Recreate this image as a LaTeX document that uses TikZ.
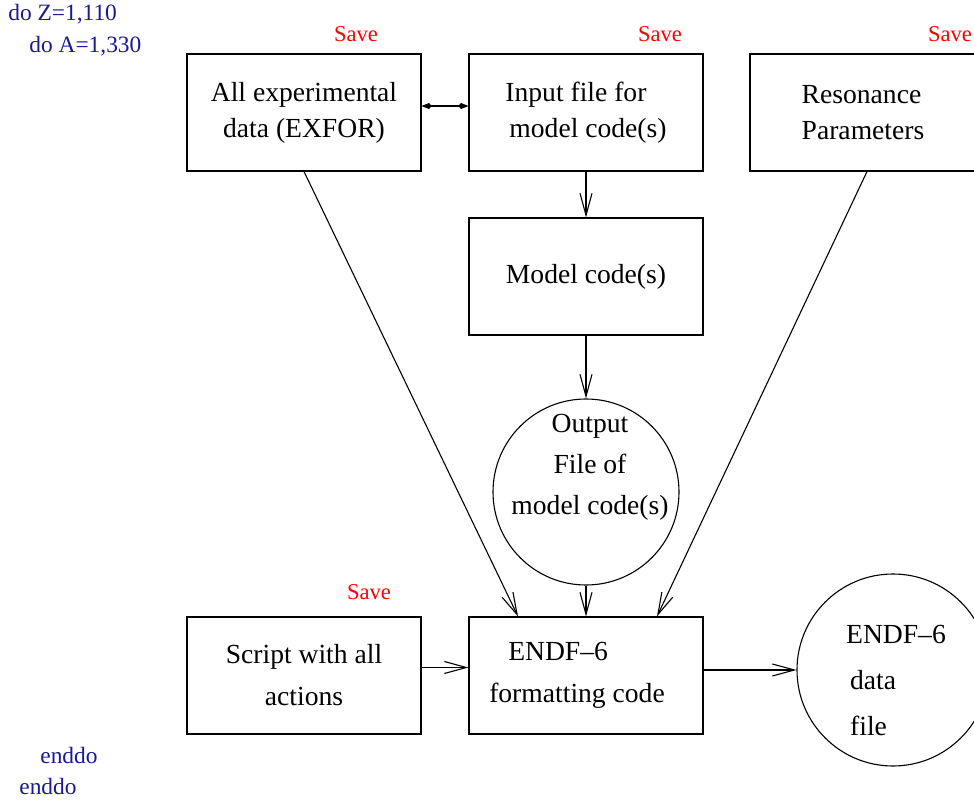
\documentclass[tikz,border=0pt]{standalone}
\usepackage{fontspec}
\setmainfont{Liberation Serif}
\usetikzlibrary{arrows.meta}
\definecolor{loopblue}{RGB}{25,25,150}
\definecolor{savered}{RGB}{255,0,0}
\newcommand{\savenote}[2]{\node[savetext] (#1) at #2 {Save};}
\newcommand{\loopnote}[3]{\node[looptext] (#1) at #2 {#3};}
\tikzset{
  box/.style={draw, line width=0.55pt, minimum width=117pt, minimum height=58.5pt, inner sep=0pt,
    font=\fontsize{13.8}{18}\selectfont},
  round/.style={draw, circle, line width=0.55pt, inner sep=0pt},
  savetext/.style={text=savered, inner sep=0pt, font=\fontsize{11.3}{13}\selectfont},
  looptext/.style={text=loopblue, inner sep=0pt, anchor=base west, font=\fontsize{11.7}{14}\selectfont},
  flow/.style={line width=0.55pt, -{Straight Barb[length=11pt,width=6pt]}},
  link/.style={line width=0.55pt, {Kite[length=5pt,width=3pt]}-{Kite[length=5pt,width=3pt]}}
}
\begin{document}
\begin{tikzpicture}[x=0.5pt,y=-0.5pt]
\clip (0,0) rectangle (974,801);
\node[box,align=center] (exfor) at (304,112.5) {All experimental\\data (EXFOR)};
\node[box,align=left] (input) at (586,112.5) {Input file for\\\hspace*{2pt}model code(s)};
\node[box,align=left] (reson) at (867,112.5) {Resonance\\Parameters\hspace*{4pt}};
\node[box] (model) at (586,276.5) {Model code(s)};
\node[round,minimum size=93pt] (outfile) at (586,492) {};
\node[align=center,inner sep=0pt,font=\fontsize{13.8}{20.5}\selectfont] (outtext) at (590,467) {Output\\File of\\model code(s)};
\node[box,align=center,font=\fontsize{13.8}{21}\selectfont] (script) at (304,675.5) {Script with all\\actions};
\node[box,align=left,font=\fontsize{13.8}{21}\selectfont] (fmt) at (586,675.5) {\hspace*{9.5pt}ENDF--6\\formatting code\hspace*{9pt}};
\node[round,minimum size=96pt] (datafile) at (893,670) {};
\node[align=left,inner sep=0pt,font=\fontsize{13.8}{23}\selectfont] (datatext) at (896,680) {ENDF--6\\\hspace*{2pt}data\\\hspace*{2pt}file};
\savenote{save1}{(356,34)}\savenote{save2}{(660,34)}\savenote{save3}{(950,34)}\savenote{save4}{(369,592)}
\loopnote{doz}{(8,21)}{do Z=1,110}\loopnote{doa}{(29,53)}{do A=1,330}
\loopnote{endA}{(40,763)}{enddo}\loopnote{endZ}{(19,794)}{enddo}
\draw[link] ([yshift=3.25pt]exfor.east) -- ([yshift=3.25pt]input.west);
\draw[flow] (input) -- (model);
\draw[flow] (model) -- (outfile);
\draw[flow] (outfile) -- (fmt);
\draw[flow] (exfor.south) -- ([xshift=-34pt]fmt.north);
\draw[flow] (reson.south) -- ([xshift=35.5pt]fmt.north);
\draw[flow] ([yshift=4pt]script.east) -- ([yshift=4pt]fmt.west);
\draw[flow] (datafile.west -| fmt.east) -- (datafile.west);
\end{tikzpicture}
\end{document}
